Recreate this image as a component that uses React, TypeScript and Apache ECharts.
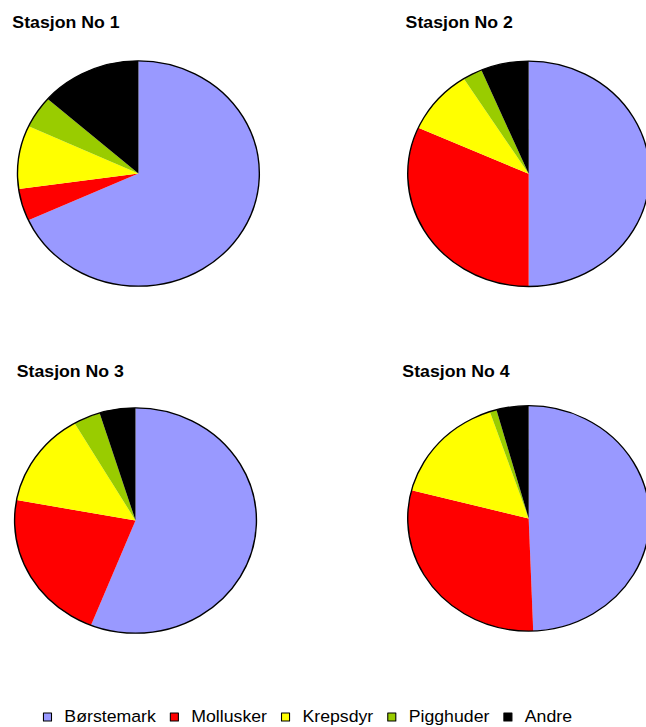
import { useEffect, useRef } from "react";
import * as echarts from "echarts";

// Species groups, in slice order (clockwise from 12 o'clock)
const categories = ["Børstemark", "Mollusker", "Krepsdyr", "Pigghuder", "Andre"];
const colors = ["#9999FF", "#FF0000", "#FFFF00", "#99CC00", "#000000"];

const stations = ["Stasjon No 1", "Stasjon No 2", "Stasjon No 3", "Stasjon No 4"];

// Share of individuals (%) per group, one array per station
const station1 = [68.2, 4.6, 9.1, 4.6, 13.5];
const station2 = [50.0, 31.7, 9.3, 2.6, 6.4];
const station3 = [56.0, 21.9, 13.7, 3.6, 4.8];
const station4 = [49.4, 29.6, 15.8, 0.9, 4.3];

const stationValues = [station1, station2, station3, station4];

// The drawing is rendered narrower and stretched horizontally, giving oval pies
const STRETCH = 1.073;
const CHART_W = 602;
const CHART_H = 727;

const pieCenters: [number, number][] = [
  [129, 173.5],
  [492.7, 173.8],
  [126.3, 520.5],
  [492.7, 518.4],
];
const pieRadius = 112.7;

const titlePos = [
  { left: 11.5, top: 14.5 },
  { left: 378, top: 14.5 },
  { left: 15.6, top: 363 },
  { left: 375, top: 363 },
];

const FONT = "'Liberation Sans', Arial, Helvetica, sans-serif";

export default function App() {
  const ref = useRef<HTMLDivElement>(null);

  useEffect(() => {
    if (!ref.current) return;
    const chart = echarts.init(ref.current, undefined, { renderer: "svg" });

    const series: any[] = [];
    stationValues.forEach((vals, s) => {
      series.push({
        type: "pie",
        center: pieCenters[s],
        radius: pieRadius,
        startAngle: 90,
        clockwise: true,
        silent: true,
        label: { show: false },
        labelLine: { show: false },
        itemStyle: { borderWidth: 0 },
        data: categories.map((name, i) => ({
          name,
          value: vals[i],
          itemStyle: { color: colors[i] },
        })),
      });
      // black rim around each pie
      series.push({
        type: "pie",
        center: pieCenters[s],
        radius: pieRadius,
        silent: true,
        z: 3,
        label: { show: false },
        labelLine: { show: false },
        itemStyle: {
          color: "rgba(0,0,0,0)",
          borderColor: "#000",
          borderWidth: 1.3,
        },
        data: [{ name: "rim", value: 1 }],
      });
    });

    chart.setOption({
      animation: false,
      title: stations.map((text, i) => ({
        text,
        left: titlePos[i].left,
        top: titlePos[i].top,
        padding: 0,
        textStyle: {
          fontFamily: FONT,
          fontSize: 16.5,
          fontWeight: "bold",
          color: "#000",
        },
      })),
      legend: {
        data: categories,
        left: 40,
        top: 708.5,
        padding: 0,
        icon: "rect",
        itemWidth: 7.5,
        itemHeight: 8,
        itemGap: 13,
        selectedMode: false,
        itemStyle: { borderColor: "#000", borderWidth: 1 },
        textStyle: {
          fontFamily: FONT,
          fontSize: 16.5,
          lineHeight: 17,
          color: "#000",
          padding: [0, 0, 0, 7],
        },
      },
      series,
    });

    return () => chart.dispose();
  }, []);

  return (
    <div
      style={{
        position: "absolute",
        left: 0,
        top: 0,
        width: 646,
        height: 727,
        overflow: "hidden",
        background: "#fff",
      }}
    >
      <div
        ref={ref}
        style={{
          width: CHART_W,
          height: CHART_H,
          transform: `scaleX(${STRETCH})`,
          transformOrigin: "0 0",
        }}
      />
    </div>
  );
}
